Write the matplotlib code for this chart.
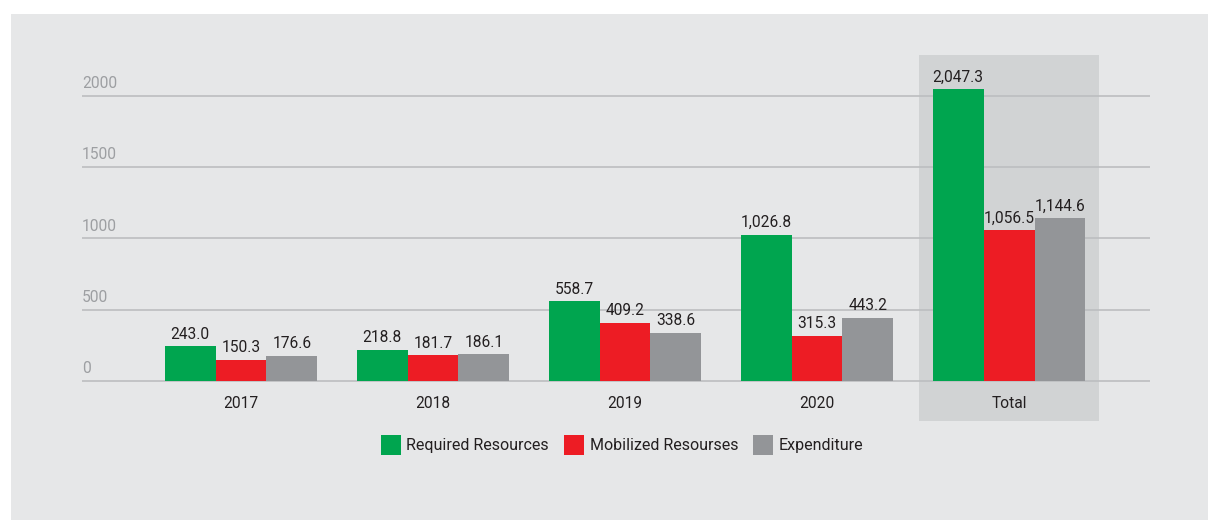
import matplotlib.pyplot as plt
from matplotlib.patches import Rectangle, Patch
import numpy as np

plt.rcParams['font.family'] = ['Roboto', 'DejaVu Sans']

# data
categories = ['2017', '2018', '2019', '2020', 'Total']
required = [243.0, 218.8, 558.7, 1026.8, 2047.3]
mobilized = [150.3, 181.7, 409.2, 315.3, 1056.5]
expenditure = [176.6, 186.1, 338.6, 443.2, 1144.6]
series_names = ['Required Resources', 'Mobilized Resourses', 'Expenditure']
yticks = [0, 500, 1000, 1500, 2000]

colors = ['#00A54F', '#ED1C24', '#939598']
bg = '#E6E7E8'
text_dark = '#231F20'

W, H = 1208, 520
fig = plt.figure(figsize=(W / 100, H / 100), dpi=100)
fig.patch.set_facecolor('white')
# grey panel behind everything
fig.patches.append(Rectangle((11 / W, 0), 1 - 11 / W, 1 - 14 / H,
                             transform=fig.transFigure, facecolor=bg,
                             edgecolor='none', zorder=-10))

ax = fig.add_axes([82 / W, (H - 421) / H, (1150 - 82) / W, (421 - 55) / H])
ax.set_facecolor('none')
for s in ax.spines.values():
    s.set_visible(False)
ax.set_xticks([])
ax.set_yticks([])

x = np.arange(len(categories))
bw = 0.265
ax.set_xlim(-0.828, 4.734)
ax.set_ylim(-281, 2288)

# highlight for total
ax.axvspan(4 - 0.47, 4 + 0.47, color='#D1D3D4', zorder=0, lw=0)

for t in yticks:
    ax.axhline(t, color='#BCBEC0', lw=1.2, zorder=1)
    ax.text(0.0, t + 35, str(t), transform=ax.get_yaxis_transform(),
            ha='left', va='bottom', fontsize=11.2, color='#9D9FA2')

for i, (vals, c) in enumerate(zip([required, mobilized, expenditure], colors)):
    pos = x + (i - 1) * bw
    ax.bar(pos, vals, width=bw, color=c, zorder=2)
    for p, v in zip(pos, vals):
        ax.text(p, v + 32, f'{v:,.1f}', ha='center', va='bottom',
                fontsize=11.2, color=text_dark)

for xi, cat in zip(x, categories):
    ax.text(xi, -108, cat, ha='center', va='top', fontsize=11.2, color=text_dark)

handles = [Patch(facecolor=c, edgecolor='none') for c in colors]
fig.legend(handles, series_names, loc='center', bbox_to_anchor=(622 / W, 1 - 445 / H),
           ncol=3, frameon=False, fontsize=11.5, handlelength=1.25, handleheight=1.6,
           handletextpad=0.35, columnspacing=0.95, labelcolor=text_dark)

fig.savefig('out.png', dpi=100, facecolor=fig.get_facecolor())
